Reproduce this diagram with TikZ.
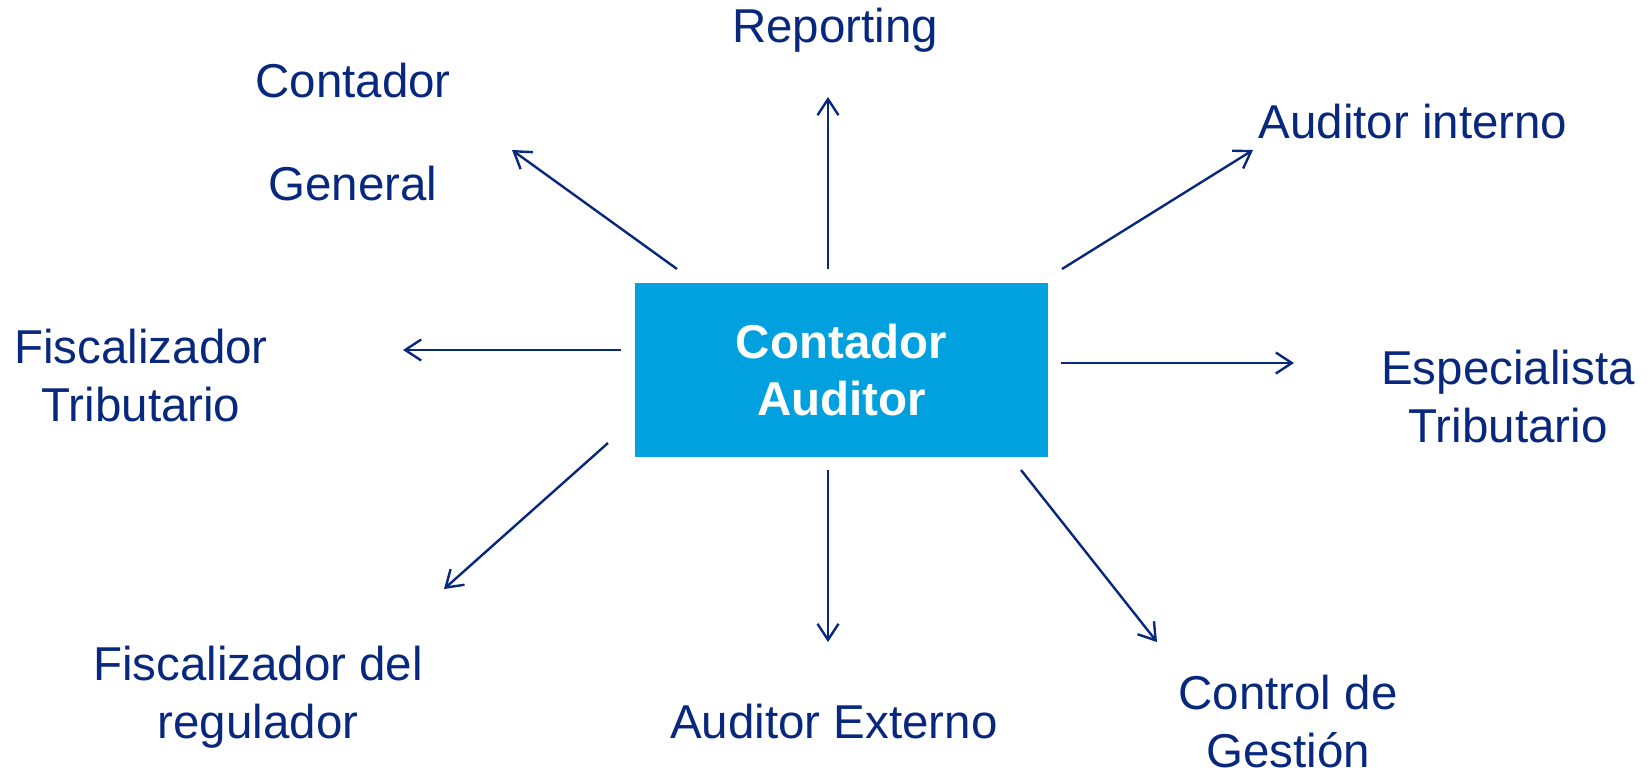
\documentclass[tikz,border=0pt]{standalone}
\usepackage{fontspec}
\setmainfont{Liberation Sans}
\usetikzlibrary{arrows.meta}

\definecolor{navy}{RGB}{8,40,125}
\definecolor{boxblue}{RGB}{0,161,222}

\begin{document}
\begin{tikzpicture}[x=1pt,y=-1pt,
                    >={Straight Barb[length=16pt,width=21pt]},
                    arrow/.style={->,draw=navy,line width=2.4pt},
                    label/.style={text=navy,align=center,inner sep=0pt,
                                  font=\fontsize{47.5}{58}\selectfont},
                    centre/.style={fill=boxblue,text=white,align=center,
                                   minimum width=413pt,minimum height=174pt,
                                   font=\fontsize{47.5}{57}\selectfont\bfseries}]

  \useasboundingbox (0,0) rectangle (1651,772);

  \node[centre] (CA) at (841.5,370) {Contador\\Auditor};

  \node[label] (Rep)  at (835,30)   {Reporting};
  \node[label] (CG)   at (353,132)  {Contador\\[45pt]General};
  \node[label] (AI)   at (1413,122) {Auditor interno};
  \node[label] (FT)   at (141,376)  {Fiscalizador\\Tributario};
  \node[label] (ET)   at (1508,397) {Especialista\\Tributario};
  \node[label] (FR)   at (258,697)  {Fiscalizador del\\regulador};
  \node[label] (AE)   at (834,722)  {Auditor Externo};
  \node[label] (CtG)  at (1288,722) {Control de\\Gestión};

  % ends of the arrows
  \coordinate (sRep) at (828,269);  \coordinate (eRep) at (828,97);
  \coordinate (sCG)  at (677,269);  \coordinate (eCG)  at (512,150);
  \coordinate (sAI)  at (1062,269); \coordinate (eAI)  at (1253,150);
  \coordinate (sFT)  at (621,350);  \coordinate (eFT)  at (403,350);
  \coordinate (sET)  at (1061,363); \coordinate (eET)  at (1294,363);
  \coordinate (sFR)  at (608,443);  \coordinate (eFR)  at (444,589);
  \coordinate (sAE)  at (828,470);  \coordinate (eAE)  at (828,642);
  \coordinate (sCtG) at (1021,470); \coordinate (eCtG) at (1157,642);

  \path (sRep) edge[arrow] (eRep)
        (sCG)  edge[arrow] (eCG)
        (sAI)  edge[arrow] (eAI)
        (sFT)  edge[arrow] (eFT)
        (sET)  edge[arrow] (eET)
        (sFR)  edge[arrow] (eFR)
        (sAE)  edge[arrow] (eAE)
        (sCtG) edge[arrow] (eCtG);

\end{tikzpicture}
\end{document}
